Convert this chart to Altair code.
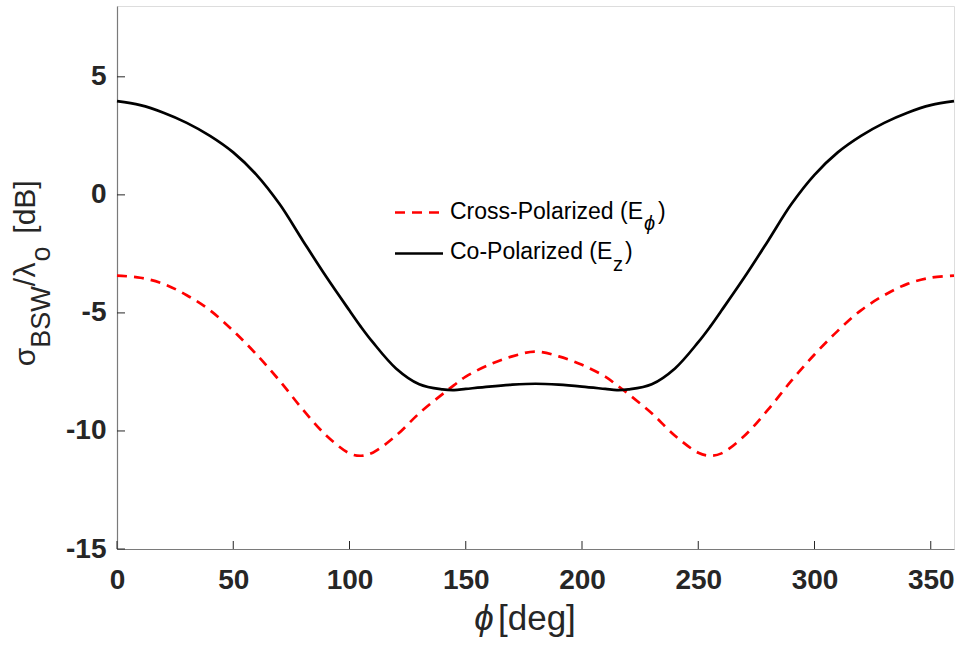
import altair as alt
import pandas as pd

# Bistatic scattering width of the two polarizations vs. observation angle
phi_deg = [0, 10, 20, 30, 40, 50, 60, 70, 80, 90, 100, 105, 110, 120, 130, 140, 145,
           150, 160, 170, 180, 190, 200, 210, 215, 220, 230, 240, 250, 255, 260, 270,
           280, 290, 300, 310, 320, 330, 340, 350, 360]

co_pol_db = [3.97, 3.80, 3.48, 3.05, 2.50, 1.80, 0.85, -0.40, -1.95, -3.47, -4.90, -5.60,
             -6.24, -7.35, -8.02, -8.24, -8.27, -8.22, -8.12, -8.04, -8.00, -8.04, -8.12,
             -8.22, -8.27, -8.24, -8.02, -7.35, -6.24, -5.60, -4.90, -3.47, -1.95, -0.40,
             0.85, 1.80, 2.50, 3.05, 3.48, 3.80, 3.97]

cross_pol_db = [-3.42, -3.51, -3.77, -4.25, -4.89, -5.76, -6.76, -7.88, -9.10, -10.19,
                -10.95, -11.05, -10.92, -10.20, -9.25, -8.44, -8.06, -7.70, -7.20, -6.84,
                -6.64, -6.84, -7.20, -7.70, -8.06, -8.44, -9.25, -10.20, -10.92, -11.05,
                -10.95, -10.19, -9.10, -7.88, -6.76, -5.76, -4.89, -4.25, -3.77, -3.51, -3.42]

x_ticks = [0, 50, 100, 150, 200, 250, 300, 350]
y_ticks = [-15, -10, -5, 0, 5]
x_domain = [0, 360]
y_domain = [-15, 8]

W, H = 837, 543
FONT = "Liberation Sans"
INK = "#262626"

x_scale = alt.Scale(domain=x_domain, nice=False, zero=False)
y_scale = alt.Scale(domain=y_domain, nice=False, zero=False)

co_df = pd.DataFrame({"phi": phi_deg, "db": co_pol_db})
cross_df = pd.DataFrame({"phi": phi_deg, "db": cross_pol_db})

axis_style = dict(title=None, grid=False, ticks=False, tickSize=0,
                  labelFont=FONT, labelFontSize=28, labelFontWeight="bold",
                  labelColor=INK, domainColor="#7a7a7a", domainWidth=1.2,
                  labelFlush=False, labelExpr="'' + datum.value")
x_axis = alt.Axis(values=x_ticks, labelPadding=17, **axis_style)
y_axis = alt.Axis(values=y_ticks, labelPadding=11, **axis_style)

cross_line = alt.Chart(cross_df).mark_line(
    color="#ff0000", strokeWidth=2.7, strokeDash=[10, 7], interpolate="catmull-rom"
).encode(
    x=alt.X("phi:Q", scale=x_scale, axis=x_axis),
    y=alt.Y("db:Q", scale=y_scale, axis=y_axis),
)

co_line = alt.Chart(co_df).mark_line(
    color="#000000", strokeWidth=2.7, interpolate="catmull-rom"
).encode(
    x=alt.X("phi:Q", scale=x_scale),
    y=alt.Y("db:Q", scale=y_scale),
)

# inward-pointing tick marks
x_tick_marks = alt.Chart(pd.DataFrame({"t": x_ticks})).mark_rule(
    color=INK, strokeWidth=1
).encode(x=alt.X("t:Q", scale=x_scale), y=alt.value(H), y2=alt.value(H - 8))

y_tick_marks = alt.Chart(pd.DataFrame({"t": y_ticks})).mark_rule(
    color=INK, strokeWidth=1
).encode(y=alt.Y("t:Q", scale=y_scale), x=alt.value(0), x2=alt.value(8))

one_row = alt.Data(values=[{}])


def label(text, x, y, size=23, align="left", angle=0, style="normal", color="#000000"):
    return alt.Chart(one_row).mark_text(
        text=text, font=FONT, fontSize=size, align=align, baseline="alphabetic",
        angle=angle, fontStyle=style, color=color
    ).encode(x=alt.value(x), y=alt.value(y))


# legend
legend_cross = alt.Chart(one_row).mark_rule(
    color="#ff0000", strokeWidth=2.7, strokeDash=[10, 7]
).encode(x=alt.value(278), x2=alt.value(328), y=alt.value(206.5))
legend_co = alt.Chart(one_row).mark_rule(
    color="#000000", strokeWidth=2.7
).encode(x=alt.value(278), x2=alt.value(326), y=alt.value(247.5))

legend_texts = [
    label("Cross-Polarized (E", 333, 212.5),
    label("ϕ", 527, 223.5, size=20, style="italic"),
    label(")", 541, 212.5),
    label("Co-Polarized (E", 333, 252.5),
    label("z", 496, 264.5, size=20),
    label(")", 508, 252.5),
]

# axis titles
x_title = [
    label("ϕ", 367, 624, size=35, align="center", style="italic", color=INK),
    label("[deg]", 381, 624, size=35, color=INK),
]
y_title = [
    label("σ", -82, 351, size=30, align="center", angle=270, color=INK),
    label("BSW", -67, 311, size=27, align="center", angle=270, color=INK),
    label("/", -82, 276, size=30, align="center", angle=270, color=INK),
    label("λ", -82, 264, size=30, align="center", angle=270, color=INK),
    label("o", -67, 248, size=27, align="center", angle=270, color=INK),
    label("[dB]", -82, 201, size=30, align="center", angle=270, color=INK),
]

chart = alt.layer(
    cross_line, co_line, x_tick_marks, y_tick_marks, legend_cross, legend_co,
    *legend_texts, *x_title, *y_title
).properties(
    width=W, height=H,
    autosize=alt.AutoSizeParams(type="none"),
    padding={"left": 117, "top": 6, "right": 6, "bottom": 96},
).configure_view(stroke=None).configure(background="white")

chart.save("out.html", embed_options={"renderer": "svg", "actions": False})
